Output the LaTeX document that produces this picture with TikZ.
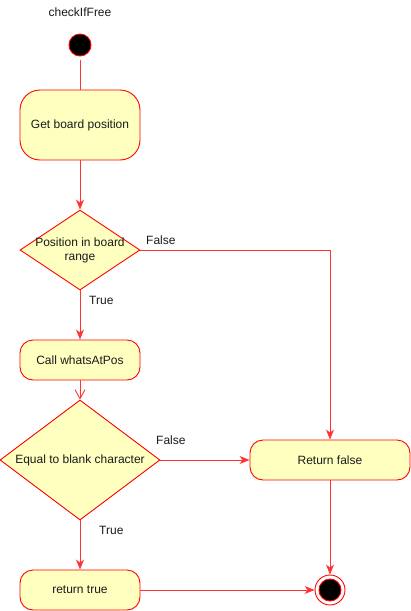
\documentclass[tikz,border=0pt]{standalone}
\usepackage{fontspec}
\setmainfont{Liberation Sans}
\usetikzlibrary{shapes.geometric,arrows.meta}
\definecolor{boxfill}{HTML}{FFFFC0}
\definecolor{boxline}{HTML}{FF0000}
\definecolor{edgeline}{HTML}{FF3333}
\definecolor{txtcol}{HTML}{1A1A1A}
\tikzset{
  act/.style={draw=boxline, fill=boxfill, line width=0.9pt, rounded corners=#1, minimum width=120pt, inner sep=0pt, font=\fontsize{12}{14}\selectfont, text=txtcol},
  dec/.style={draw=boxline, fill=boxfill, line width=0.9pt, diamond, inner sep=0pt},
  lbl/.style={font=\fontsize{12}{14}\selectfont, text=txtcol, inner sep=0pt, align=center},
  flow/.style={draw=edgeline, line width=0.9pt, -{Stealth[length=10pt,width=8pt,inset=3pt]}},
  openflow/.style={draw=edgeline, line width=0.9pt, -{Straight Barb[length=9pt,width=10pt]}},
  plain/.style={draw=edgeline, line width=0.9pt},
}
\begin{document}
\begin{tikzpicture}[x=1pt,y=-1pt]
\useasboundingbox (0,0) rectangle (411,611);
\node[lbl] (title) at (80,12) {checkIfFree};
\node[circle, draw=boxline, fill=black, line width=0.9pt, minimum size=22pt, inner sep=0pt] (start) at (80,45) {};
\node[act=20pt, minimum height=70pt] (get) at (80,125) {Get board position};
\node[dec, minimum width=120pt, minimum height=80pt] (d1) at (80,250) {};
\node[lbl] (d1t) at (80,250) {Position in board\\range};
\node[act=13pt, minimum height=40pt] (call) at (80,360) {Call whatsAtPos};
\node[dec, minimum width=160pt, minimum height=120pt] (d2) at (80,460) {};
\node[lbl] (d2t) at (80,460) {Equal to blank character};
\node[act=13pt, minimum width=160pt, minimum height=40pt] (rf) at (330,460) {Return false};
\node[act=13pt, minimum height=40pt] (rt) at (80,590) {return true};
\node[circle, draw=boxline, line width=0.9pt, minimum size=30pt, inner sep=0pt] (end) at (330,590) {};
\node[circle, draw=boxline, fill=black, line width=0.9pt, minimum size=22pt, inner sep=0pt] (endin) at (330,590) {};
\coordinate (corner) at (330,250);
\draw[plain] ([yshift=-4pt]start.south) -- (get.north);
\draw[flow] (get.south) -- (d1.north);
\draw[plain] (d1.east) -- (corner);
\draw[flow] (corner) -- (rf.north);
\draw[flow] (d1.south) -- (call.north);
\draw[openflow] (call.south) -- (d2.north);
\draw[flow] (d2.east) -- (rf.west);
\draw[flow] (d2.south) -- (rt.north);
\draw[flow] (rf.south) -- (end.north);
\draw[flow] (rt.east) -- (end.west);
\node[lbl, anchor=west] (lf1) at (146,240) {False};
\node[lbl, anchor=west] (lt1) at (89,300) {True};
\node[lbl, anchor=west] (lf2) at (156,440) {False};
\node[lbl, anchor=west] (lt2) at (99,530) {True};
\end{tikzpicture}
\end{document}
